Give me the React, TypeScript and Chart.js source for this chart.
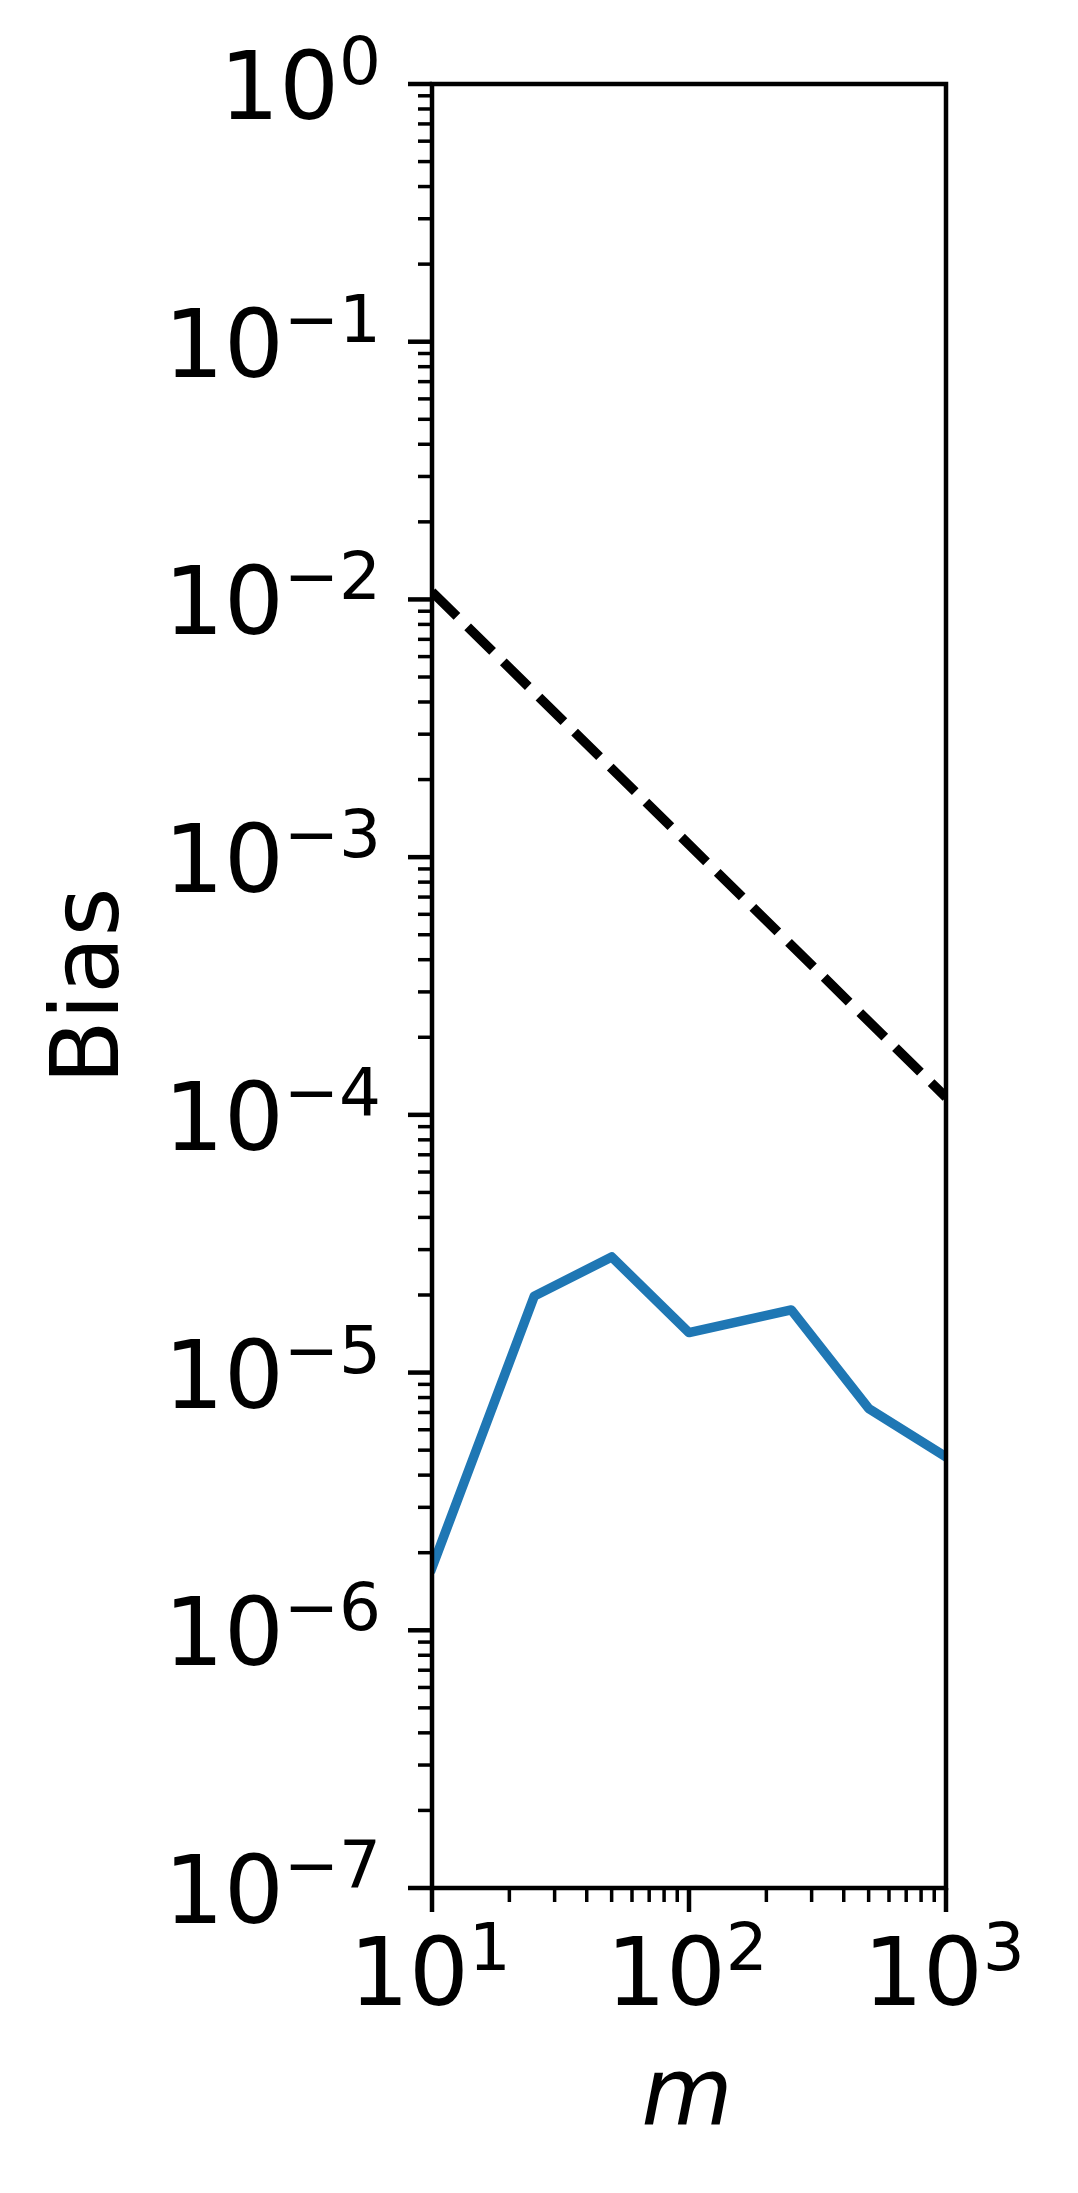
import React, { useEffect, useRef } from 'react';
import { Chart, registerables } from 'chart.js';

Chart.register(...registerables);

// ---- data ----
const mValues = [10, 25, 50, 100, 250, 500, 1000];
const biasValues = [1.75e-6, 1.98e-5, 2.81e-5, 1.43e-5, 1.75e-5, 7.26e-6, 4.71e-6];
const refM = [10, 1000];
const refValues = [0.0107, 0.000117];
const yTickExponents = [-7, -6, -5, -4, -3, -2, -1, 0];
const xTickExponents = [1, 2, 3];
const xLabel = 'm';
const yLabel = 'Bias';

const FONT = '"DejaVu Sans", "Liberation Sans", sans-serif';
const MAIN_PX = 94;
const SUP_PX = 66;

function supText(e: number): string {
  return e < 0 ? '\u2212' + String(-e) : String(e);
}

const mplAxes = {
  id: 'mplAxes',
  afterDraw(chart: any) {
    const ctx: CanvasRenderingContext2D = chart.ctx;
    const { left, right, top, bottom } = chart.chartArea;
    const xs = chart.scales.x;
    const ys = chart.scales.y;
    ctx.save();
    ctx.strokeStyle = '#000';
    ctx.fillStyle = '#000';
    ctx.lineCap = 'butt';

    const majorLen = 24, minorLen = 14, majorW = 4.5, minorW = 3.5;

    // y ticks
    for (let i = 0; i < yTickExponents.length; i++) {
      const e = yTickExponents[i];
      const y = ys.getPixelForValue(Math.pow(10, e));
      ctx.lineWidth = majorW;
      ctx.beginPath();
      ctx.moveTo(left, y);
      ctx.lineTo(left - majorLen, y);
      ctx.stroke();
      if (i < yTickExponents.length - 1) {
        for (let k = 2; k <= 9; k++) {
          const ym = ys.getPixelForValue(k * Math.pow(10, e));
          ctx.lineWidth = minorW;
          ctx.beginPath();
          ctx.moveTo(left, ym);
          ctx.lineTo(left - minorLen, ym);
          ctx.stroke();
        }
      }
    }
    // x ticks
    for (let i = 0; i < xTickExponents.length; i++) {
      const e = xTickExponents[i];
      const x = xs.getPixelForValue(Math.pow(10, e));
      ctx.lineWidth = majorW;
      ctx.beginPath();
      ctx.moveTo(x, bottom);
      ctx.lineTo(x, bottom + majorLen);
      ctx.stroke();
      if (i < xTickExponents.length - 1) {
        for (let k = 2; k <= 9; k++) {
          const xm = xs.getPixelForValue(k * Math.pow(10, e));
          ctx.lineWidth = minorW;
          ctx.beginPath();
          ctx.moveTo(xm, bottom);
          ctx.lineTo(xm, bottom + minorLen);
          ctx.stroke();
        }
      }
    }

    // spines
    ctx.lineWidth = 4.5;
    ctx.lineJoin = 'miter';
    ctx.strokeRect(left, top, right - left, bottom - top);

    // tick labels
    ctx.textBaseline = 'alphabetic';
    ctx.textAlign = 'left';
    const drawPow = (e: number, xStart: number, baseY: number) => {
      ctx.font = `${MAIN_PX}px ${FONT}`;
      ctx.fillText('10', xStart, baseY);
      const w10 = ctx.measureText('10').width;
      ctx.font = `${SUP_PX}px ${FONT}`;
      ctx.fillText(supText(e), xStart + w10, baseY - 35);
    };
    const powWidth = (e: number) => {
      ctx.font = `${MAIN_PX}px ${FONT}`;
      const w10 = ctx.measureText('10').width;
      ctx.font = `${SUP_PX}px ${FONT}`;
      return w10 + ctx.measureText(supText(e)).width;
    };
    for (const e of yTickExponents) {
      const y = ys.getPixelForValue(Math.pow(10, e));
      const w = powWidth(e);
      drawPow(e, left - 51 - w, y + 35);
    }
    for (const e of xTickExponents) {
      const x = xs.getPixelForValue(Math.pow(10, e));
      const w = powWidth(e);
      drawPow(e, x - 2 - w / 2, bottom + 117);
    }

    // axis labels
    ctx.font = `italic ${MAIN_PX}px ${FONT}`;
    ctx.textAlign = 'center';
    ctx.fillText(xLabel, (left + right) / 2 - 2, 2125);

    ctx.save();
    ctx.translate(118, (top + bottom) / 2);
    ctx.rotate(-Math.PI / 2);
    ctx.font = `${MAIN_PX}px ${FONT}`;
    ctx.textAlign = 'center';
    ctx.fillText(yLabel, 0, 0);
    ctx.restore();

    ctx.restore();
  },
};

export default function App() {
  const ref = useRef<HTMLCanvasElement | null>(null);
  useEffect(() => {
    if (!ref.current) return;
    const chart = new Chart(ref.current, {
      type: 'line',
      data: {
        datasets: [
          {
            data: refM.map((m, i) => ({ x: m, y: refValues[i] })),
            borderColor: '#000000',
            borderWidth: 9.5,
            borderDash: [35, 15],
            borderCapStyle: 'butt',
            pointRadius: 0,
            tension: 0,
            clip: 0,
          } as any,
          {
            data: mValues.map((m, i) => ({ x: m, y: biasValues[i] })),
            borderColor: '#1f77b4',
            borderWidth: 9.5,
            borderJoinStyle: 'round',
            borderCapStyle: 'square',
            pointRadius: 0,
            tension: 0,
            clip: 0,
          } as any,
        ],
      },
      options: {
        responsive: false,
        animation: false,
        devicePixelRatio: 1,
        layout: { padding: { left: 432, top: 84, right: 132, bottom: 305 } },
        plugins: { legend: { display: false }, tooltip: { enabled: false } },
        scales: {
          x: { type: 'logarithmic', min: 10, max: 1000, display: false },
          y: { type: 'logarithmic', min: 1e-7, max: 1, display: false },
        },
      } as any,
      plugins: [mplAxes],
    });
    return () => chart.destroy();
  }, []);
  return (
    <div style={{ position: 'absolute', left: 0, top: 0, width: 1078, height: 2193, background: '#fff' }}>
      <canvas ref={ref} width={1078} height={2193} style={{ display: 'block' }} />
    </div>
  );
}
